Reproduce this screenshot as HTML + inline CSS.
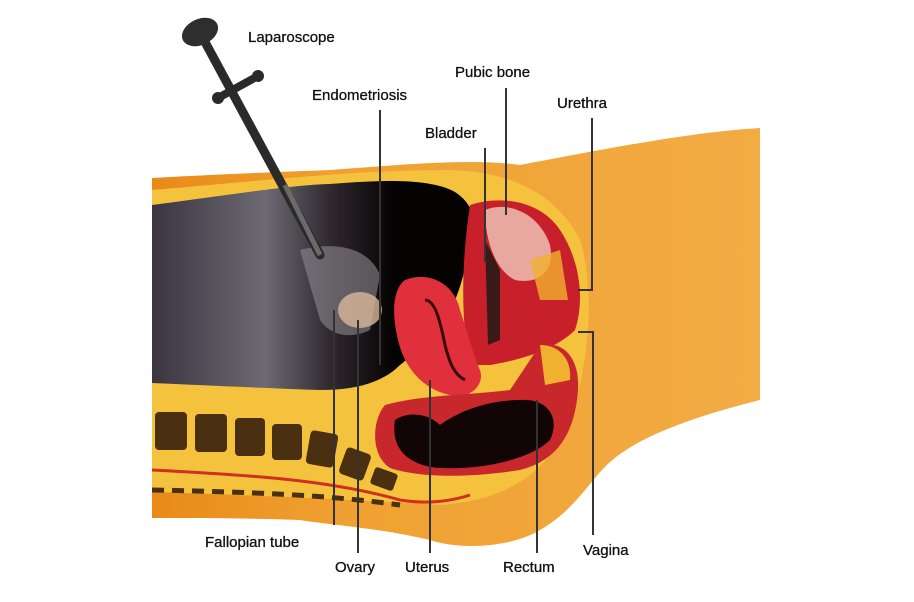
<!DOCTYPE html>
<html><head><style>
html,body{margin:0;padding:0;background:#fff;}
svg{display:block}
text{font-family:"Liberation Sans",sans-serif;font-size:15px;fill:#111;stroke:#111;stroke-width:0.3px;}
</style></head><body>
<svg width="914" height="602" viewBox="0 0 914 602" xmlns="http://www.w3.org/2000/svg">
<defs>
<linearGradient id="cav" x1="0" y1="0" x2="1" y2="0">
<stop offset="0" stop-color="#3a3540"/><stop offset="0.35" stop-color="#6e6a74"/><stop offset="0.55" stop-color="#302a30"/><stop offset="0.75" stop-color="#050202"/><stop offset="1" stop-color="#050202"/>
</linearGradient>
<linearGradient id="leg" x1="0" y1="0" x2="1" y2="0">
<stop offset="0" stop-color="#e88a18"/><stop offset="0.3" stop-color="#f0a030"/><stop offset="1" stop-color="#f2ac45"/>
</linearGradient>
</defs>
<path d="M152 178 C220 174 280 172 330 170 C400 165 470 158 520 165 C600 150 690 132 760 128 L760 400 C700 415 640 435 610 462 C590 480 575 510 540 530 C510 548 460 550 430 540 C380 528 330 525 300 520 C250 518 190 518 152 518 Z" fill="url(#leg)"/>
<path d="M152 190 C250 182 350 170 450 170 C520 172 560 200 580 240 C595 290 590 360 570 420 C550 470 510 500 440 505 C360 500 250 495 152 492 Z" fill="#f5c23e"/>
<path d="M152 205 C230 195 290 185 330 184 C380 180 430 178 455 192 C475 205 478 225 472 245 C465 265 462 285 455 300 C440 330 420 350 400 365 C380 385 350 390 320 390 C260 388 200 385 152 383 Z" fill="url(#cav)"/>
<path d="M300 250 C340 240 370 250 380 275 L370 330 C350 340 330 335 320 320 Z" fill="#8e8890" opacity="0.6"/>
<ellipse cx="360" cy="310" rx="22" ry="18" fill="#d9b89a" opacity="0.8"/>
<path d="M470 205 C500 195 540 200 560 230 C580 260 585 300 575 330 C555 350 520 360 490 365 L470 365 C462 330 460 270 470 205 Z" fill="#c8202a"/>
<path d="M485 210 C510 200 540 215 550 245 C555 270 540 285 515 280 C495 270 485 240 485 210 Z" fill="#e8a8a0"/>
<path d="M485 240 L500 270 L500 340 L488 345 Z" fill="#3a1a18"/>
<path d="M530 260 L560 250 L568 300 L540 300 Z" fill="#f0b030" opacity="0.8"/>
<path d="M405 280 C430 270 455 285 460 310 C470 340 475 360 480 370 C485 385 470 400 450 395 C425 390 405 370 398 340 C392 315 392 290 405 280 Z" fill="#e0303c"/>
<path d="M425 300 C435 300 440 320 445 345 C450 365 455 375 465 380" stroke="#3a0a0a" stroke-width="3" fill="none"/>
<path d="M540 345 C565 340 580 360 578 390 C575 430 560 460 520 470 C470 478 420 478 390 468 C370 455 372 420 385 405 C420 395 470 395 510 390 Z" fill="#c8282c"/>
<path d="M395 420 C410 410 430 415 440 425 C460 410 490 400 520 400 C550 398 560 420 550 440 C530 460 480 470 440 468 C410 466 390 450 395 420 Z" fill="#120505"/>
<path d="M540 345 C560 345 572 360 570 380 L545 385 Z" fill="#f0b030"/>
<g fill="#4a3010">
<rect x="155" y="412" width="32" height="38" rx="4"/>
<rect x="195" y="414" width="32" height="38" rx="4"/>
<rect x="235" y="418" width="30" height="38" rx="4"/>
<rect x="272" y="424" width="30" height="36" rx="4"/>
<rect x="308" y="432" width="28" height="34" rx="4" transform="rotate(10 322 449)"/>
<rect x="342" y="450" width="26" height="28" rx="4" transform="rotate(20 355 464)"/>
<rect x="372" y="470" width="24" height="18" rx="3" transform="rotate(20 384 479)"/>
</g>
<path d="M152 470 C250 475 330 480 400 500 C430 505 455 500 470 495" stroke="#d03020" stroke-width="3" fill="none"/>
<path d="M152 490 C250 492 330 495 400 505" stroke="#4a3010" stroke-width="5" stroke-dasharray="12 8" fill="none"/>
<line x1="205" y1="42" x2="320" y2="255" stroke="#2a2a2a" stroke-width="9" stroke-linecap="round"/>
<line x1="285" y1="185" x2="320" y2="255" stroke="#6a6a6a" stroke-width="5"/>
<line x1="218" y1="98" x2="258" y2="76" stroke="#2a2a2a" stroke-width="8" stroke-linecap="round"/>
<circle cx="218" cy="98" r="6" fill="#2a2a2a"/><circle cx="258" cy="76" r="6" fill="#2a2a2a"/>
<ellipse cx="200" cy="32" rx="19" ry="13" fill="#2e2e2e" transform="rotate(-25 200 32)"/>
<g stroke="#333" stroke-width="2" fill="none">
<line x1="380" y1="110" x2="380" y2="365"/>
<line x1="485" y1="148" x2="485" y2="262"/>
<line x1="506" y1="88" x2="506" y2="215"/>
<path d="M592 118 L592 290 L578 290"/>
<path d="M578 332 L593 332 L593 535"/>
<line x1="537" y1="400" x2="537" y2="553"/>
<line x1="430" y1="380" x2="430" y2="553"/>
<line x1="358" y1="320" x2="358" y2="553"/>
<line x1="334" y1="310" x2="334" y2="525"/>
</g>
<text x="248" y="42">Laparoscope</text>
<text x="312" y="100">Endometriosis</text>
<text x="455" y="77">Pubic bone</text>
<text x="425" y="138">Bladder</text>
<text x="557" y="108">Urethra</text>
<text x="205" y="547">Fallopian tube</text>
<text x="335" y="572">Ovary</text>
<text x="405" y="572">Uterus</text>
<text x="503" y="572">Rectum</text>
<text x="583" y="555">Vagina</text>
</svg>
</body></html>
